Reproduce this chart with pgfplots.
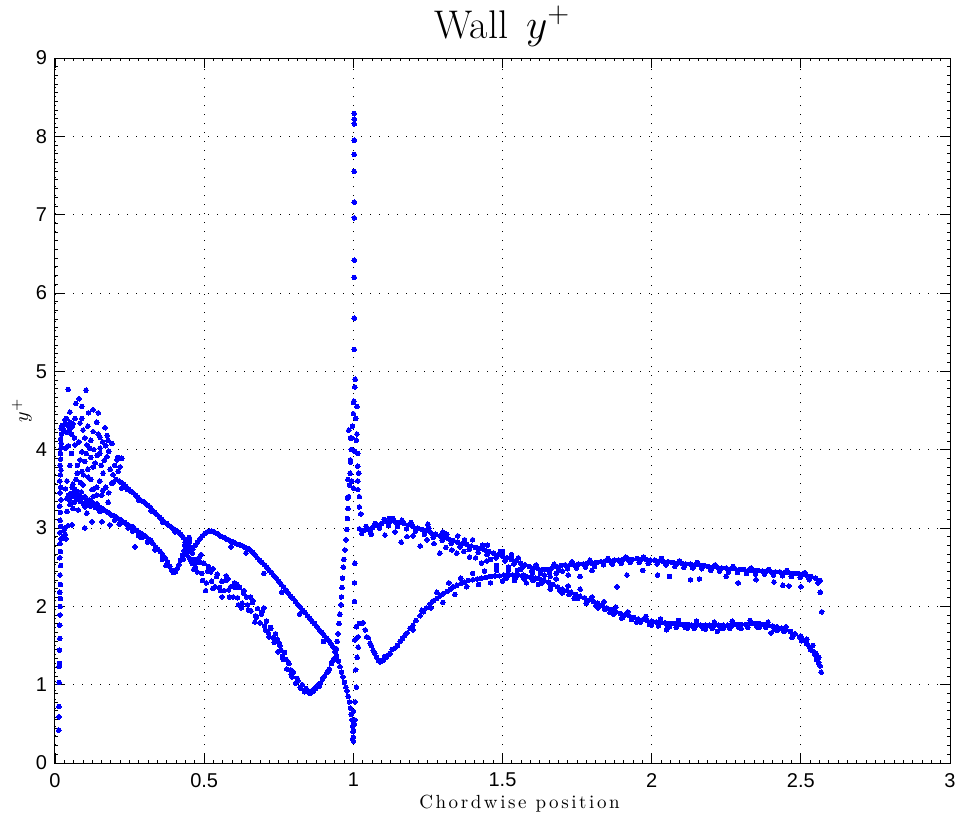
\documentclass[border=0pt]{standalone}
\usepackage{fontspec}
\usepackage{pgfplots}
\pgfplotsset{compat=1.18}
\newfontfamily\helv{Liberation Sans}
\newfontfamily\spaced{lmroman10-regular}[Extension=.otf, LetterSpace=13.6]
\definecolor{mblue}{RGB}{0,0,255}
\pgfplotsset{dot/.style={only marks, mark=*, mark size=1.15pt, color=mblue, mark options={solid, fill=mblue, draw=mblue, line width=0pt}}}
\begin{document}
\begin{tikzpicture}
\useasboundingbox (-27.5pt,-26.5pt) rectangle (450.5pt,381.5pt);
\begin{axis}[
  scale only axis, width=447.5pt, height=352.5pt,
  xmin=0, xmax=3, ymin=0, ymax=9,
  xtick={0,0.5,1,1.5,2,2.5,3}, xticklabels={0,0.5,1,1.5,2,2.5,3},
  ytick={0,1,2,3,4,5,6,7,8,9}, yticklabels={0,1,2,3,4,5,6,7,8,9},
  minor x tick num=15, minor y tick num=8,
  tick align=inside, major tick length=5pt, minor tick length=1.5pt,
  xmajorgrids, ymajorgrids,
  grid style={black, line width=0.45pt, dash pattern=on 0.5pt off 4pt},
  axis line style={black, line width=0.5pt},
  tick style={black, line width=0.45pt},
  ticklabel style={font=\helv\fontsize{10}{12}\selectfont},
  /pgf/number format/assume math mode=true,
  yticklabel style={xshift=-0.5pt},
  xticklabel style={yshift=-1.5pt},
  title={Wall\hspace{9pt}$y^+$},
  title style={at={(axis description cs:0.5,1)}, anchor=base, yshift=4pt, font=\fontsize{20}{24}\selectfont},
  xlabel={\spaced Chordwise position},
  xlabel style={at={(axis description cs:0.5,0)}, anchor=base, yshift=-22.5pt, xshift=8.5pt, font=\fontsize{9.5}{11}\selectfont},
  ylabel={$y^+$},
  every axis y label/.style={at={(axis description cs:-0.0369,0.5)}, anchor=center, rotate=90, font=\fontsize{10}{12}\selectfont},
]
% leading-edge column
\addplot[dot] coordinates {(0.013,0.42)(0.013,0.59)(0.013,0.72)(0.014,1.03)(0.014,1.23)(0.015,1.27)(0.015,1.44)(0.016,1.59)(0.016,1.76)(0.017,1.89)(0.017,2.0)(0.018,2.1)(0.016,2.18)(0.018,2.28)(0.017,2.4)(0.019,2.52)(0.016,2.62)(0.018,2.7)(0.017,2.8)(0.02,2.86)(0.016,2.94)(0.019,3.02)(0.017,3.1)(0.018,3.2)(0.016,3.28)(0.02,3.36)(0.017,3.45)(0.019,3.52)(0.016,3.6)(0.018,3.68)(0.02,3.74)(0.017,3.8)(0.019,3.88)(0.018,3.95)(0.02,4.02)(0.021,4.08)(0.019,4.14)(0.022,4.2)(0.021,4.27)(0.024,4.31)(0.03,2.97)(0.034,2.92)(0.036,2.86)(0.028,2.9)(0.033,3.0)};
% leading-edge cloud
\addplot[dot] coordinates {(0.044,4.77)(0.104,4.76)(0.081,4.65)(0.07,4.59)(0.09,4.55)(0.05,4.48)(0.128,4.51)(0.112,4.47)(0.145,4.47)(0.034,4.38)(0.067,4.40)(0.084,4.34)(0.14,4.35)(0.023,4.29)(0.057,4.29)(0.094,4.25)(0.168,4.28)(0.128,4.23)(0.151,4.16)(0.067,4.06)(0.107,4.06)(0.034,4.02)(0.178,4.12)(0.191,4.08)(0.117,4.02)(0.151,4.02)(0.141,3.93)(0.09,3.97)(0.174,3.91)(0.208,3.87)(0.224,3.89)(0.084,3.87)(0.128,3.78)(0.09,3.72)(0.074,3.70)(0.111,3.65)(0.161,3.70)(0.195,3.68)(0.212,3.72)(0.218,3.78)(0.19,3.57)(0.224,3.51)(0.094,3.55)(0.14,3.52)(0.124,3.49)(0.057,3.52)(0.157,3.42)(0.178,3.33)(0.128,3.40)(0.044,3.40)
(0.03,4.25)(0.035,4.32)(0.04,4.22)(0.045,4.3)(0.05,4.35)(0.055,4.2)(0.06,4.33)(0.038,4.4)(0.048,4.26)
(0.1,3.85)(0.105,3.95)(0.12,3.9)(0.13,4.0)(0.135,3.83)(0.15,3.95)(0.155,3.8)(0.165,3.86)(0.17,4.05)(0.18,3.98)(0.185,3.75)(0.2,3.8)(0.205,3.62)(0.21,3.9)(0.215,3.6)(0.195,3.58)(0.11,3.75)(0.12,3.62)(0.095,3.68)(0.085,3.58)(0.07,3.62)(0.065,3.5)(0.06,3.56)(0.075,3.8)(0.15,3.6)(0.16,3.48)(0.17,3.52)(0.18,3.45)(0.14,3.42)(0.13,3.5)(0.175,4.18)(0.16,4.1)(0.145,4.2)(0.12,4.12)(0.11,4.3)(0.1,4.15)(0.09,4.4)(0.08,4.1)(0.065,4.15)(0.055,3.95)(0.045,4.05)(0.05,3.8)(0.04,3.6)(0.035,3.5)
(0.04,3.38)(0.045,3.42)(0.05,3.35)(0.055,3.44)(0.06,3.4)(0.065,3.33)(0.07,3.43)(0.075,3.37)(0.08,3.41)(0.085,3.34)(0.09,3.39)(0.095,3.31)(0.1,3.4)(0.105,3.35)(0.11,3.3)(0.115,3.36)(0.12,3.28)(0.125,3.33)(0.13,3.3)(0.135,3.26)(0.14,3.31)(0.145,3.25)(0.05,3.3)(0.06,3.25)(0.072,3.47)(0.088,3.46)(0.1,3.27)
(0.044,3.03)(0.057,3.04)(0.1,3.0)(0.124,3.08)(0.157,3.08)(0.184,3.04)(0.04,3.21)(0.078,3.23)(0.107,3.19)(0.151,3.21)(0.268,2.76)};
% upper branch from cloud
\addplot[dot] coordinates {(0.222,3.58)(0.23,3.56)(0.238,3.53)(0.246,3.5)(0.254,3.47)(0.262,3.45)(0.27,3.42)(0.278,3.39)(0.286,3.36)(0.294,3.34)(0.302,3.32)(0.31,3.29)(0.318,3.27)(0.326,3.23)(0.334,3.2)(0.342,3.17)(0.35,3.14)(0.358,3.11)(0.366,3.08)(0.374,3.06)(0.382,3.03)(0.39,3.01)(0.398,2.99)(0.406,2.97)(0.414,2.95)(0.422,2.92)(0.43,2.88)(0.436,2.82)(0.442,2.76)(0.448,2.70)(0.242,3.49)(0.282,3.35)(0.322,3.22)(0.362,3.07)(0.402,2.95)};
% lower branch from cloud
\addplot[dot] coordinates {(0.145,3.28)(0.153,3.26)(0.161,3.24)(0.169,3.22)(0.177,3.2)(0.185,3.18)(0.193,3.16)(0.201,3.15)(0.209,3.13)(0.217,3.11)(0.225,3.09)(0.233,3.07)(0.241,3.05)(0.249,3.03)(0.257,3.02)(0.265,3.0)(0.273,2.97)(0.281,2.95)(0.289,2.93)(0.297,2.91)(0.305,2.89)(0.313,2.86)(0.321,2.84)(0.329,2.8)(0.337,2.76)(0.345,2.73)(0.353,2.7)(0.361,2.66)(0.369,2.62)(0.377,2.57)(0.385,2.51)(0.391,2.46)(0.397,2.43)(0.403,2.44)(0.409,2.48)(0.415,2.53)(0.421,2.59)(0.427,2.65)(0.433,2.71)(0.439,2.76)(0.445,2.8)(0.451,2.83)
(0.215,3.05)(0.245,3.0)(0.28,2.9)(0.31,2.82)(0.335,2.72)(0.36,2.6)(0.372,2.52)(0.2,3.1)(0.26,2.96)(0.29,2.88)
(0.43,2.6)(0.435,2.78)(0.44,2.66)(0.445,2.7)(0.45,2.62)(0.455,2.75)(0.46,2.68)(0.465,2.6)(0.44,2.85)(0.45,2.88)(0.46,2.55)(0.47,2.5)};
% peak line towards trailing edge
\addplot[dot] coordinates {(0.462,2.73)(0.47,2.78)(0.478,2.82)(0.486,2.86)(0.494,2.9)(0.502,2.93)(0.51,2.95)(0.518,2.96)(0.526,2.96)(0.534,2.95)(0.542,2.93)(0.55,2.91)(0.558,2.89)(0.566,2.88)(0.574,2.86)(0.582,2.85)(0.59,2.83)(0.598,2.82)(0.606,2.8)(0.614,2.79)(0.622,2.78)(0.63,2.77)(0.638,2.75)(0.646,2.74)(0.654,2.72)(0.662,2.69)(0.67,2.66)(0.678,2.62)(0.686,2.59)(0.694,2.56)(0.702,2.53)(0.71,2.5)(0.718,2.46)(0.726,2.43)(0.734,2.39)(0.742,2.36)(0.75,2.32)(0.758,2.28)(0.766,2.25)(0.774,2.21)(0.782,2.17)(0.79,2.13)(0.798,2.1)(0.806,2.06)(0.814,2.02)(0.822,1.99)(0.83,1.95)(0.838,1.92)(0.846,1.88)(0.854,1.85)(0.862,1.81)(0.87,1.78)(0.878,1.74)(0.886,1.7)(0.894,1.67)(0.902,1.63)(0.91,1.59)(0.918,1.56)(0.926,1.52)(0.932,1.48)(0.938,1.42)(0.944,1.36)(0.95,1.3)(0.955,1.23)(0.96,1.16)(0.965,1.1)(0.97,1.03)(0.975,0.97)(0.979,0.92)(0.983,0.85)(0.987,0.78)(0.99,0.7)(0.993,0.62)(0.996,0.55)(0.998,0.47)(0.999,0.4)(1.0,0.33)(1.0,0.28)
(0.7,2.42)(0.76,2.18)(0.82,1.9)(0.9,1.55)(0.64,2.68)(0.59,2.76)};
% noisy lower band to the trailing edge
\addplot[dot] coordinates {(0.45,2.72)(0.454,2.59)(0.447,2.78)(0.465,2.47)(0.461,2.6)(0.468,2.56)(0.482,2.62)(0.477,2.44)(0.484,2.56)(0.495,2.33)(0.499,2.55)(0.492,2.42)(0.512,2.45)(0.507,2.3)(0.514,2.51)(0.525,2.32)(0.529,2.23)(0.522,2.44)(0.542,2.38)(0.537,2.25)(0.544,2.41)(0.555,2.2)(0.559,2.32)(0.552,2.24)(0.572,2.33)(0.567,2.2)(0.574,2.39)(0.585,2.12)(0.589,2.25)(0.582,2.21)(0.602,2.3)(0.597,2.12)(0.604,2.24)(0.615,2.02)(0.619,2.24)(0.612,2.11)(0.632,2.17)(0.627,2.04)(0.634,2.2)(0.645,2.02)(0.649,1.95)(0.642,2.12)(0.662,2.05)(0.657,1.94)(0.664,2.07)(0.675,1.86)(0.679,1.97)(0.672,1.88)(0.692,1.9)(0.687,1.79)(0.694,1.93)(0.705,1.7)(0.709,1.81)(0.702,1.75)(0.722,1.73)(0.717,1.61)(0.724,1.72)(0.735,1.54)(0.739,1.65)(0.732,1.6)(0.752,1.53)(0.747,1.42)(0.754,1.5)(0.765,1.32)(0.769,1.41)(0.762,1.36)(0.782,1.29)(0.777,1.2)(0.784,1.27)(0.795,1.1)(0.799,1.16)(0.792,1.13)(0.812,1.08)(0.807,1.02)(0.814,1.05)(0.825,0.95)(0.829,1.0)(0.822,0.97)(0.842,0.95)(0.837,0.91)(0.844,0.92)(0.855,0.89)(0.859,0.92)(0.852,0.9)(0.872,0.96)(0.867,0.92)(0.874,0.95)(0.885,0.98)(0.889,1.02)(0.882,1.0)(0.902,1.1)(0.897,1.07)(0.904,1.11)(0.915,1.17)(0.919,1.2)(0.912,1.16)(0.932,1.31)(0.927,1.27)(0.934,1.33)(0.94,1.42)(0.943,1.46)
(0.49,2.66)(0.505,2.2)(0.53,2.48)(0.56,2.12)(0.58,2.35)(0.61,2.28)(0.625,1.98)(0.655,2.12)(0.67,1.8)(0.7,1.98)(0.715,1.66)(0.745,1.58)(0.758,1.44)(0.775,1.32)(0.79,1.19)};
% steep rise and spike at the trailing edge
\addplot[dot] coordinates {(0.946,1.55)(0.949,1.65)(0.952,1.78)(0.955,1.9)(0.958,2.02)(0.96,2.12)(0.962,2.24)(0.964,2.36)(0.966,2.5)(0.968,2.6)(0.972,2.72)(0.975,2.85)(0.978,2.98)(0.98,3.12)(0.982,3.25)(0.984,3.4)(0.987,3.55)(0.989,3.7)(0.99,3.84)(0.993,4.0)(0.995,4.15)(0.997,4.3)(1.0,4.46)(1.002,4.62)(1.005,4.8)(1.006,4.9)(1.003,5.28)(1.003,5.68)(1.003,6.2)(1.003,6.42)(1.003,6.96)(1.003,7.16)(1.003,7.55)(1.003,7.77)(1.003,7.95)(1.003,8.16)(1.003,8.22)(1.003,8.29)
(0.99,4.15)(1.01,4.12)(0.995,4.0)(1.005,3.98)(0.99,3.87)(1.015,3.79)(0.982,3.62)(0.995,3.6)(1.015,3.6)(1.0,3.51)(0.98,3.38)(1.015,3.49)(1.02,3.27)(1.025,3.18)(1.0,4.6)(1.008,4.4)(0.985,4.25)(1.012,4.55)(1.012,4.2)(1.015,3.95)(1.018,3.7)(1.02,3.4)
(1.005,2.55)(1.004,2.06)(1.005,1.57)(1.008,1.19)(1.01,0.97)(1.0,0.66)(1.005,0.55)(1.0,0.42)(0.998,0.31)(1.003,0.5)(1.006,0.78)(1.004,2.3)};
% upper band after the trailing edge
\addplot[dot] coordinates {(1.02,2.99)(1.035,2.97)(1.05,2.98)(1.065,3.01)(1.08,3.04)(1.095,3.06)(1.11,3.08)(1.125,3.09)(1.14,3.08)(1.155,3.07)(1.17,3.06)(1.185,3.04)(1.2,3.02)(1.215,3.0)(1.23,2.98)(1.245,2.97)(1.26,2.94)(1.275,2.92)(1.29,2.9)(1.305,2.88)(1.32,2.86)(1.335,2.84)(1.35,2.82)(1.365,2.8)(1.38,2.79)(1.395,2.77)(1.41,2.75)(1.425,2.74)(1.44,2.72)(1.455,2.7)(1.47,2.68)(1.485,2.66)(1.5,2.64)(1.515,2.62)(1.53,2.6)(1.545,2.58)(1.56,2.55)(1.575,2.53)(1.59,2.51)(1.605,2.49)(1.62,2.48)(1.635,2.47)(1.65,2.47)(1.665,2.49)(1.68,2.51)(1.695,2.52)(1.71,2.53)(1.725,2.53)(1.74,2.53)(1.755,2.54)(1.77,2.54)(1.785,2.55)(1.8,2.55)(1.815,2.56)(1.83,2.57)(1.845,2.58)(1.86,2.58)(1.875,2.59)(1.89,2.59)(1.905,2.6)(1.92,2.6)(1.935,2.6)(1.95,2.61)(1.965,2.6)(1.98,2.6)(1.995,2.59)(2.01,2.59)(2.025,2.58)(2.04,2.57)(2.055,2.57)(2.07,2.56)(2.085,2.55)(2.1,2.55)(2.115,2.54)(2.13,2.54)(2.145,2.53)(2.16,2.53)(2.175,2.52)(2.19,2.51)(2.205,2.5)(2.22,2.5)(2.235,2.49)(2.25,2.49)(2.265,2.48)(2.28,2.48)(2.295,2.47)(2.31,2.47)(2.325,2.46)(2.34,2.46)(2.355,2.46)(2.37,2.45)(2.385,2.45)(2.4,2.44)(2.415,2.44)(2.43,2.44)(2.445,2.43)(2.46,2.43)(2.475,2.42)(2.49,2.42)(2.505,2.41)(2.52,2.39)(2.535,2.38)(2.55,2.36)(2.565,2.33)
(1.028,2.93)(1.058,2.95)(1.088,3.0)(1.118,3.03)(1.148,3.02)(1.178,2.99)(1.208,2.96)(1.238,2.92)(1.268,2.88)(1.298,2.84)(1.328,2.8)(1.358,2.76)(1.388,2.73)(1.418,2.69)(1.448,2.66)(1.478,2.62)(1.508,2.58)(1.538,2.54)(1.568,2.5)(1.598,2.45)(1.628,2.42)(1.658,2.43)(1.688,2.46)(1.718,2.48)(1.748,2.49)(1.778,2.5)(1.808,2.51)(1.838,2.53)(1.868,2.54)(1.898,2.55)(1.928,2.56)(1.958,2.56)(1.988,2.55)(2.018,2.54)(2.048,2.53)(2.078,2.51)(2.108,2.5)(2.138,2.49)(2.168,2.48)(2.198,2.46)(2.228,2.45)(2.258,2.44)(2.288,2.43)(2.318,2.42)(2.348,2.41)(2.378,2.41)(2.408,2.4)(2.438,2.39)(2.468,2.38)(2.498,2.37)(2.528,2.34)(2.558,2.3)
(1.043,3.02)(1.073,3.06)(1.103,3.11)(1.133,3.12)(1.163,3.1)(1.193,3.07)(1.253,3.0)(1.313,2.92)(1.373,2.85)(1.433,2.78)(1.493,2.7)(1.553,2.62)(1.613,2.53)(1.673,2.54)(1.733,2.57)(1.793,2.59)(1.853,2.61)(1.913,2.63)(1.973,2.63)(2.033,2.61)(2.093,2.58)(2.153,2.56)(2.213,2.53)(2.273,2.51)(2.333,2.49)(2.393,2.47)(2.453,2.46)(2.513,2.43)
(1.106,2.91)(1.18,2.89)(1.224,2.77)(1.247,2.85)(1.29,2.68)(1.347,2.68)(1.39,2.63)(1.447,2.58)(1.06,2.92)(1.14,2.95)(1.16,2.82)(1.2,2.9)(1.27,2.8)(1.31,2.75)(1.33,2.72)(1.37,2.7)(1.41,2.62)(1.43,2.55)(1.46,2.6)(1.48,2.52)(1.52,2.5)(1.55,2.46)(1.57,2.4)(1.6,2.42)(1.62,2.36)(1.64,2.4)(1.66,2.38)(1.68,2.42)(1.7,2.45)(1.72,2.4)(1.76,2.38)(1.8,2.46)(1.884,2.25)(1.917,2.40)(1.97,2.46)(2.02,2.40)(2.06,2.38)(2.13,2.34)(2.16,2.35)(2.25,2.38)(2.29,2.30)(2.35,2.34)(2.41,2.31)(2.44,2.27)(2.46,2.26)(2.50,2.25)(2.565,2.18)(2.57,1.93)(1.25,3.05)(1.3,2.95)(1.12,3.12)(1.35,2.9)(1.4,2.85)(1.45,2.78)(1.5,2.7)(1.53,2.66)};
% lower band after the trailing edge
\addplot[dot] coordinates {(1.01,1.74)(1.02,1.78)(1.033,1.79)(1.016,1.61)(1.016,1.48)(1.013,1.35)(1.04,1.7)(1.045,1.61)(1.05,1.6)(1.056,1.53)(1.06,1.5)(1.066,1.44)(1.072,1.4)(1.078,1.35)(1.084,1.31)(1.09,1.29)(1.095,1.3)(1.1,1.31)(1.105,1.36)(1.11,1.35)(1.117,1.38)(1.123,1.4)(1.13,1.45)(1.14,1.47)(1.148,1.5)(1.157,1.55)(1.165,1.59)(1.173,1.63)(1.18,1.66)(1.19,1.72)(1.2,1.76)(1.21,1.82)(1.224,1.88)(1.235,1.93)(1.245,1.98)(1.257,2.03)(1.268,2.07)(1.28,2.1)(1.29,2.13)(1.3,2.16)(1.314,2.19)(1.325,2.22)(1.335,2.25)(1.347,2.27)(1.36,2.29)(1.372,2.31)(1.385,2.33)(1.4,2.34)(1.415,2.35)(1.43,2.36)(1.445,2.37)(1.46,2.38)(1.475,2.39)(1.49,2.39)(1.505,2.4)(1.52,2.4)(1.535,2.4)(1.55,2.4)(1.565,2.39)(1.58,2.38)(1.595,2.37)(1.61,2.36)(1.625,2.35)(1.64,2.33)(1.655,2.31)(1.67,2.28)(1.685,2.25)(1.7,2.22)(1.715,2.2)(1.73,2.18)(1.745,2.15)(1.76,2.13)(1.775,2.11)(1.79,2.08)(1.805,2.06)(1.82,2.04)(1.835,2.01)(1.85,1.98)(1.865,1.96)(1.88,1.93)(1.895,1.91)(1.91,1.89)(1.925,1.88)(1.94,1.86)(1.955,1.84)(1.97,1.83)(1.985,1.82)(2.0,1.81)(2.015,1.8)(2.03,1.79)(2.045,1.79)(2.06,1.78)(2.075,1.78)(2.09,1.77)(2.105,1.77)(2.12,1.77)(2.135,1.76)(2.15,1.76)(2.165,1.76)(2.18,1.76)(2.195,1.76)(2.21,1.76)(2.225,1.76)(2.24,1.76)(2.255,1.76)(2.27,1.76)(2.285,1.77)(2.3,1.77)(2.315,1.77)(2.33,1.78)(2.345,1.78)(2.36,1.78)(2.375,1.77)(2.39,1.76)(2.405,1.75)(2.42,1.74)(2.435,1.72)(2.45,1.7)(2.465,1.68)(2.48,1.65)(2.495,1.61)(2.51,1.57)(2.52,1.52)(2.53,1.48)(2.54,1.43)(2.548,1.38)(2.555,1.33)(2.56,1.28)(2.565,1.24)(2.568,1.16)
(1.5125,2.36)(1.5425,2.36)(1.5725,2.35)(1.6025,2.33)(1.6325,2.3)(1.6625,2.26)(1.6925,2.2)(1.7225,2.15)(1.7525,2.1)(1.7825,2.05)(1.8125,2.01)(1.8425,1.96)(1.8725,1.9)(1.9025,1.86)(1.9325,1.83)(1.9625,1.8)(1.9925,1.77)(2.0225,1.75)(2.0525,1.74)(2.0825,1.73)(2.1125,1.73)(2.1425,1.72)(2.1725,1.72)(2.2025,1.72)(2.2325,1.72)(2.2625,1.72)(2.2925,1.73)(2.3225,1.73)(2.3525,1.74)(2.3825,1.73)(2.4125,1.71)(2.4425,1.68)(2.4725,1.63)(2.5025,1.56)(2.5325,1.45)(2.5525,1.32)
(1.2,1.7)(1.23,1.95)(1.26,1.98)(1.28,2.18)(1.3,2.05)(1.32,2.3)(1.34,2.15)(1.36,2.36)(1.38,2.25)(1.4,2.42)(1.42,2.28)(1.44,2.45)(1.46,2.3)(1.48,2.46)(1.5,2.32)(1.52,2.46)(1.54,2.33)(1.56,2.47)(1.58,2.3)(1.6,2.44)(1.62,2.28)(1.64,2.4)(1.66,2.22)(1.68,2.35)(1.7,2.17)(1.72,2.26)(1.74,2.1)(1.76,2.22)(1.78,2.04)(1.8,2.12)(1.82,1.98)(1.84,2.06)(1.86,1.92)(1.88,1.99)(1.9,1.85)(1.92,1.93)(1.95,1.8)(1.98,1.87)(2.0,1.76)(2.03,1.84)(2.06,1.74)(2.09,1.82)(2.12,1.72)(2.15,1.81)(2.18,1.71)(2.21,1.8)(2.24,1.72)(2.27,1.81)(2.3,1.72)(2.33,1.82)(2.36,1.73)(2.39,1.8)(2.42,1.69)(2.45,1.74)(2.47,1.6)(2.5,1.62)(2.52,1.58)(2.54,1.5)(2.55,1.4)(2.56,1.35)(2.05,1.7)(2.22,1.68)(2.4,1.66)};
\end{axis}
\end{tikzpicture}
\end{document}
